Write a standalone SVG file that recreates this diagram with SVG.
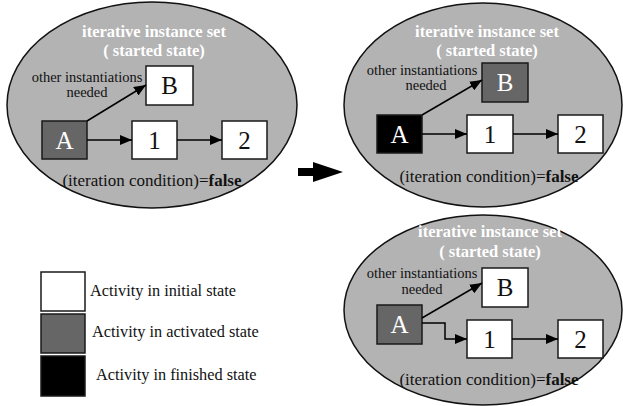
<svg xmlns="http://www.w3.org/2000/svg" width="623" height="406" viewBox="0 0 623 406" font-family="'Liberation Serif', 'Times New Roman', Times, 'DejaVu Serif', serif">
<defs>
<marker id="ah" markerWidth="12" markerHeight="10" refX="12" refY="5" orient="auto" markerUnits="userSpaceOnUse">
<path d="M0,0 L12,5 L0,10 Z" fill="#000"/>
</marker>
<style>
.set{fill:#b3b3b3;stroke:#111;stroke-width:1.5}
.box{stroke:#1a1a1a;stroke-width:1.5}
.init{fill:#fff}
.act{fill:#666}
.fin{fill:#000}
.title{font-weight:bold;font-size:16.5px;fill:#fff;text-anchor:middle}
.lbl{font-size:14.5px;fill:#111;text-anchor:middle}
.cond{font-size:17px;fill:#111;text-anchor:middle}
.big{font-size:25px;text-anchor:middle}
.leg{font-size:16.3px;fill:#111}
.conn{stroke:#000;stroke-width:1.5;fill:none;marker-end:url(#ah)}
</style>
</defs>
<rect width="623" height="406" fill="#fff"/>

<g id="set1">
<ellipse class="set" cx="152" cy="105" rx="145" ry="103"/>
<text class="title" x="154" y="37">iterative instance set</text>
<text class="title" x="154" y="56">( started state)</text>
<text class="lbl" x="87" y="82">other instantiations</text>
<text class="lbl" x="87" y="97">needed</text>
<text class="cond" x="152" y="186">(iteration condition)=<tspan font-weight="bold">false</tspan></text>
</g>
<g id="s1A"><rect class="box act" x="42" y="121" width="45" height="38"/><text class="big" x="64.5" y="149" fill="#fff">A</text></g>
<g id="s1B"><rect class="box init" x="146" y="66" width="47" height="39"/><text class="big" x="169.5" y="94" fill="#111">B</text></g>
<g id="s1n1"><rect class="box init" x="132" y="121" width="45" height="38"/><text class="big" x="154.5" y="149" fill="#111">1</text></g>
<g id="s1n2"><rect class="box init" x="222" y="121" width="45" height="38"/><text class="big" x="244.5" y="149" fill="#111">2</text></g>

<g id="set2">
<ellipse class="set" cx="483" cy="105" rx="139" ry="102"/>
<text class="title" x="487" y="37">iterative instance set</text>
<text class="title" x="487" y="56">( started state)</text>
<text class="lbl" x="422" y="75">other instantiations</text>
<text class="lbl" x="426" y="90">needed</text>
<text class="cond" x="489" y="182">(iteration condition)=<tspan font-weight="bold">false</tspan></text>
</g>
<g id="s2A"><rect class="box fin" x="377" y="115" width="45" height="38"/><text class="big" x="399.5" y="143" fill="#fff">A</text></g>
<g id="s2B"><rect class="box act" x="482" y="63" width="46" height="39"/><text class="big" x="505" y="91" fill="#fff">B</text></g>
<g id="s2n1"><rect class="box init" x="467" y="115" width="46" height="38"/><text class="big" x="490" y="143" fill="#111">1</text></g>
<g id="s2n2"><rect class="box init" x="558" y="115" width="45" height="38"/><text class="big" x="580.5" y="143" fill="#111">2</text></g>

<g id="set3">
<ellipse class="set" cx="483" cy="310" rx="139" ry="95"/>
<text class="title" x="490" y="237">iterative instance set</text>
<text class="title" x="490" y="257">( started state)</text>
<text class="lbl" x="422" y="278">other instantiations</text>
<text class="lbl" x="422" y="294">needed</text>
<text class="cond" x="489" y="385">(iteration condition)=<tspan font-weight="bold">false</tspan></text>
</g>
<g id="s3A"><rect class="box act" x="377" y="305" width="45" height="39"/><text class="big" x="399.5" y="333" fill="#fff">A</text></g>
<g id="s3B"><rect class="box init" x="482" y="268" width="46" height="39"/><text class="big" x="505" y="296" fill="#111">B</text></g>
<g id="s3n1"><rect class="box init" x="467" y="320" width="45" height="38"/><text class="big" x="489.5" y="348" fill="#111">1</text></g>
<g id="s3n2"><rect class="box init" x="558" y="320" width="45" height="38"/><text class="big" x="580.5" y="348" fill="#111">2</text></g>

<g id="connectors">
<line class="conn" x1="87" y1="140" x2="132" y2="140"/>
<line class="conn" x1="177" y1="140" x2="222" y2="140"/>
<line class="conn" x1="87" y1="121" x2="146" y2="85"/>
<line class="conn" x1="422" y1="134" x2="467" y2="134"/>
<line class="conn" x1="513" y1="134" x2="558" y2="134"/>
<line class="conn" x1="422" y1="115" x2="482" y2="80"/>
<polyline class="conn" points="422,323 445,323 445,339 467,339"/>
<line class="conn" x1="512" y1="339" x2="558" y2="339"/>
<line class="conn" x1="422" y1="318" x2="482" y2="283"/>
</g>

<g id="transition">
<path d="M298,168 L313,168 L313,162 L343,172 L313,182 L313,176 L298,176 Z" fill="#000"/>
</g>

<g id="legend">
<rect class="box init" x="41" y="272" width="44" height="39"/>
<rect class="box act" x="41" y="314" width="44" height="39"/>
<rect class="box fin" x="41" y="356" width="44" height="40"/>
<text class="leg" x="90" y="296">Activity in initial state</text>
<text class="leg" x="92" y="337">Activity in activated state</text>
<text class="leg" x="96" y="380">Activity in finished state</text>
</g>
</svg>
